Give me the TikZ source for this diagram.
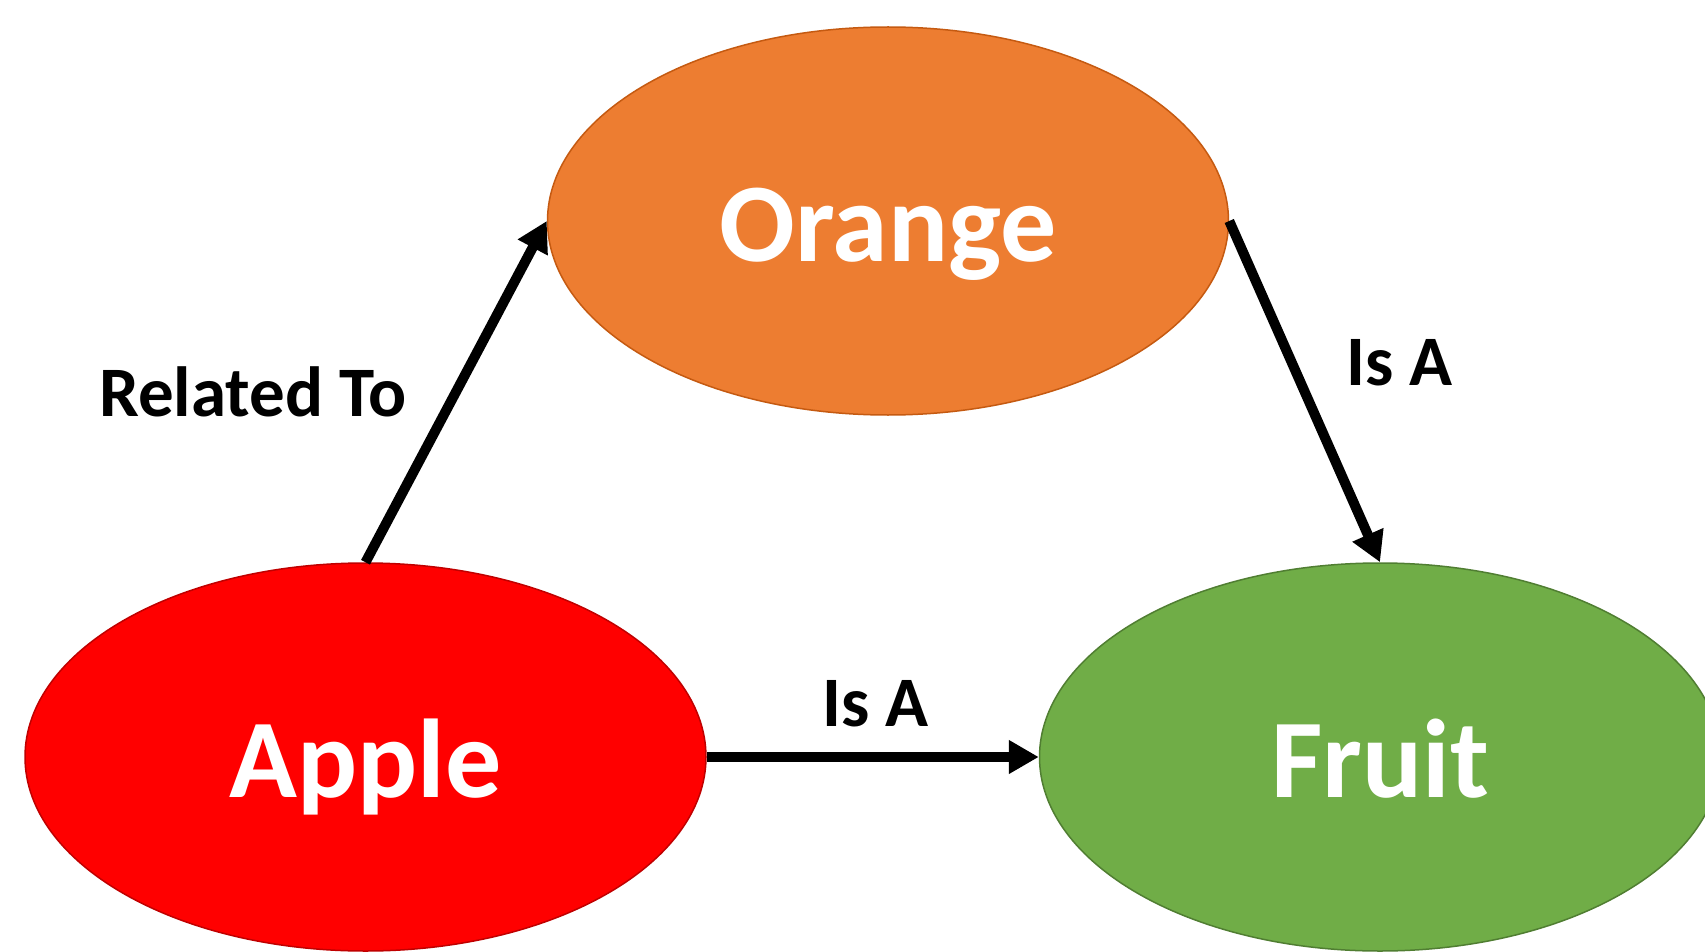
\documentclass[tikz,border=0pt]{standalone}
\usepackage{fontspec}
\setmainfont{Carlito}
\usetikzlibrary{shapes.geometric,arrows.meta}
\definecolor{orangefill}{HTML}{ED7D31}
\definecolor{orangeline}{HTML}{C55A11}
\definecolor{redfill}{HTML}{FF0000}
\definecolor{redline}{HTML}{C00000}
\definecolor{greenfill}{HTML}{70AD47}
\definecolor{greenline}{HTML}{507E32}
\tikzset{
  concept/.style={ellipse, minimum width=681pt, minimum height=388pt, inner sep=0pt,
    line width=1.5pt, text=white, font=\fontsize{112}{112}\selectfont\bfseries,
    text height=80pt, text depth=0pt},
  rel/.style={line width=10pt, -{Triangle[length=30pt,width=32pt]}},
  lbl/.style={font=\fontsize{71}{71}\selectfont\bfseries, inner sep=0pt, anchor=base west}
}
\begin{document}
\begin{tikzpicture}[x=1pt,y=-1pt]
\useasboundingbox (0,0) rectangle (1705,952);
\fill[white] (0,0) rectangle (1705,952);
\node[concept, fill=orangefill, draw=orangeline] (orange) at (888,221) {Orange};
\node[concept, fill=redfill, draw=redline] (apple) at (365.5,757) {Apple};
\node[concept, fill=greenfill, draw=greenline] (fruit) at (1380,757) {Fruit};
\draw[rel] (apple.north) -- (orange.west);
\draw[rel] (orange.east) -- (fruit.north);
\draw[rel] (apple.east) -- (fruit.west);
\node[lbl] (l1) at (99,416) {Related To};
\node[lbl] (l2) at (1346,385) {Is A};
\node[lbl] (l3) at (822,726) {Is A};
\end{tikzpicture}
\end{document}
